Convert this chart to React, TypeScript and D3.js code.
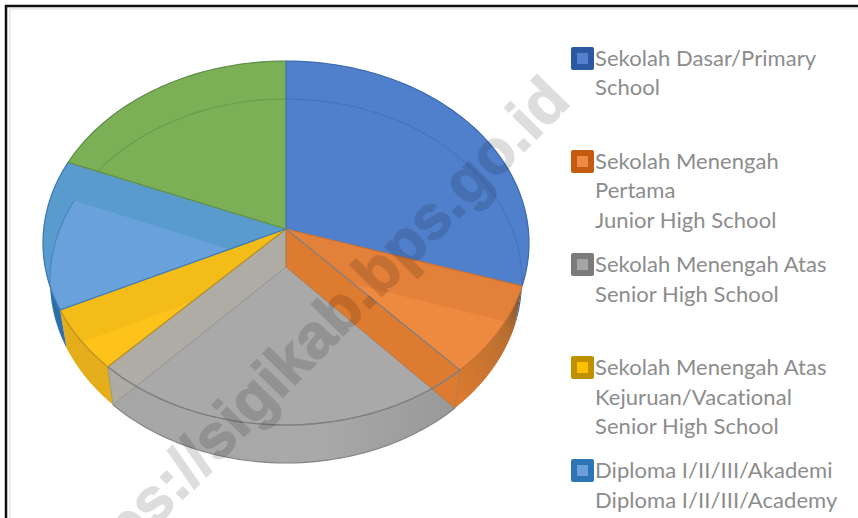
import React from "react";
import * as d3 from "d3";

const categories = ["Sekolah Dasar/Primary School","Sekolah Menengah Pertama Junior High School","Sekolah Menengah Atas Senior High School","Sekolah Menengah Atas Kejuruan/Vacational Senior High School","Diploma I/II/III/Akademi Diploma I/II/III/Academy","Other"];
const shares = [28.8, 8.5, 25.8, 5.9, 13.3, 17.7];
const faceColors = ["#5080cc","#ee8a40","#a9a9a9","#fdc31a","#69a2da","#7bb056"];
const bandColors = ["#5080cc","#e3803a","#a9a9a9","#f3bc18","#5a9bcd","#7bb056"];
const sideColors = ["#2f5f9e","#d0752e","#a4a4a4","#e3ae1a","#2f6fa8","#6a9a48"];
const lineColors = ["#3f6cb0","#c77034","#808080","#b98f20","#3a78b8","#5f8f48"];
const legendLines = [
  { lines: ["Sekolah Dasar/Primary","School"], y: [66,95], dark: "#2b58a0", light: "#5580cc" },
  { lines: ["Sekolah Menengah","Pertama","Junior High School"], y: [169,198,228], dark: "#c55a11", light: "#ed8a45" },
  { lines: ["Sekolah Menengah Atas","Senior High School"], y: [272,302], dark: "#7b7b7b", light: "#a5a5a5" },
  { lines: ["Sekolah Menengah Atas","Kejuruan/Vacational","Senior High School"], y: [375,405,434], dark: "#bf9000", light: "#ffc000" },
  { lines: ["Diploma I/II/III/Akademi","Diploma I/II/III/Academy"], y: [478,508], dark: "#2e75b6", light: "#6a9fd8" },
];
const watermark = "https://sigikab.bps.go.id";

const cx = 286, cy = 243, rx = 243, rxLow = 236, ry = 182, apexY = 229, depth = 38;
const pt = (t: number, s = 0): [number, number] => [cx + (s ? rxLow : rx) * Math.sin(t), cy - ry * Math.cos(t) + s];
const arcPts = (a: number, b: number, s = 0) => d3.range(0, 61).map(i => pt(a + (b - a) * i / 60, s));
const line = d3.line();

export default function App() {
  const slices = d3.pie<number>().sort(null)(shares);
  const sector = (a: number, b: number, s = 0) => line([[cx, apexY + s], ...arcPts(a, b, s)])! + "Z";
  const side = (a: number, b: number) => line([...arcPts(a, b), ...arcPts(a, b, depth).reverse()])! + "Z";
  const wall = (t: number) => line([[cx, apexY], pt(t), pt(t, depth), [cx, apexY + depth]])! + "Z";
  const orangeEnd = slices[1].endAngle, grayEnd = slices[2].endAngle;
  return (
    <svg width={858} height={518} style={{ position: "absolute", left: 0, top: 0, background: "#fff" }}>
      <defs>
        {slices.map((s, i) => (
          <clipPath id={`top${i}`} key={i}><path d={sector(s.startAngle, s.endAngle)} /></clipPath>
        ))}
        <linearGradient id="orangeSide" x1="1" y1="0" x2="0" y2="1">
          <stop offset="0" stopColor="#6f5030" /><stop offset="0.3" stopColor="#b86f30" /><stop offset="1" stopColor="#e07c30" />
        </linearGradient>
        <linearGradient id="graySide" x1="0" y1="0" x2="1" y2="0">
          <stop offset="0" stopColor="#a6a6a6" /><stop offset="0.6" stopColor="#a9a9a9" /><stop offset="1" stopColor="#989898" />
        </linearGradient>
      </defs>
      <rect x={10} y={9} width={880} height={530} fill="none" stroke="#ececec" strokeWidth={2} />
      <rect x={6} y={6} width={880} height={530} fill="none" stroke="#111" strokeWidth={2.5} />

      {slices.map((s, i) => (
        <path key={i} d={side(s.startAngle, s.endAngle)}
          fill={i === 1 ? "url(#orangeSide)" : i === 2 ? "url(#graySide)" : sideColors[i]} />
      ))}
      {slices.map((s, i) => (
        <g key={i}>
          <path d={sector(s.startAngle, s.endAngle)} fill={bandColors[i]} />
          <g clipPath={`url(#top${i})`}>
            <path d={sector(s.startAngle, s.endAngle, depth)} fill={faceColors[i]} />
            <path d={line(arcPts(s.startAngle, s.endAngle, depth))!} fill="none" stroke={lineColors[i]} strokeOpacity={0.6} strokeWidth={1.2} />
          </g>
        </g>
      ))}
      <path d={wall(grayEnd)} fill="#aeaca4" fillOpacity={0.9} stroke="#8f8f8a" strokeWidth={0.8} />
      <path d={wall(orangeEnd)} fill="#dd7b30" stroke="#b0754a" strokeWidth={0.8} />
      <path d={line(arcPts(orangeEnd, grayEnd))!} fill="none" stroke="#808080" strokeWidth={1.2} />
      <path d={line(arcPts(orangeEnd, grayEnd, depth))!} fill="none" stroke="#858585" strokeWidth={1.2} />
      {slices.map((s, i) => (
        <path key={i} d={line([[cx, apexY], ...arcPts(s.startAngle, s.endAngle)])!} fill="none" stroke={lineColors[i]} strokeWidth={1.2} />
      ))}

      {legendLines.map((l, i) => (
        <g key={i}>
          <rect x={571} y={l.y[0] - 19} width={23} height={23} rx={2} fill={l.dark} />
          <rect x={577} y={l.y[0] - 13} width={11} height={11} fill={l.light} />
          {l.lines.map((t, j) => (
            <text key={j} x={595} y={l.y[j]} fontFamily="Lato" fontSize={22} letterSpacing={0.05} fill="#8c8c8c">{t}</text>
          ))}
        </g>
      ))}
      <g opacity={0.13}>
        <text transform="translate(572,103) rotate(-45.5)" textAnchor="end" fontFamily="Liberation Sans" fontWeight="bold" fontSize={62}
          fill="#000" stroke="#000" strokeWidth={1.5}>{watermark}</text>
      </g>
    </svg>
  );
}
